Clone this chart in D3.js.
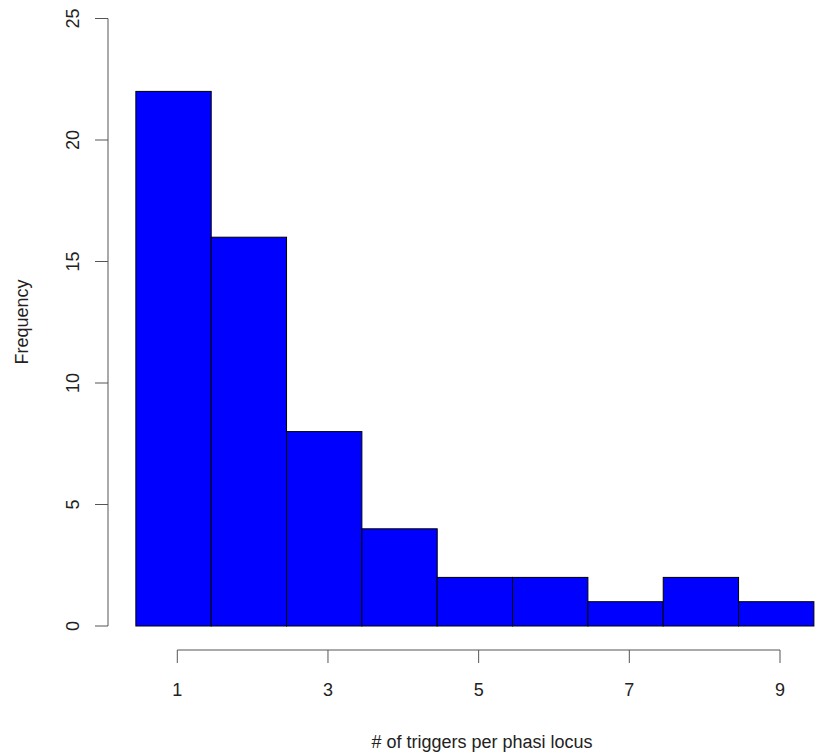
<!DOCTYPE html>
<html>
<head>
<meta charset="utf-8">
<script src="https://cdn.jsdelivr.net/npm/d3@7"></script>
<style>
  body { margin: 0; background: #fff; }
  text { font-family: "Liberation Sans", Arial, sans-serif; fill: #222; }
</style>
</head>
<body>
<svg id="chart" width="817" height="754"></svg>
<script>
// histogram bins: left edge of each bin and its count
const binStarts = [0.45, 1.45, 2.45, 3.45, 4.45, 5.45, 6.45, 7.45, 8.45];
const counts = [22, 16, 8, 4, 2, 2, 1, 2, 1];
const xTicks = [1, 3, 5, 7, 9];
const yTicks = [0, 5, 10, 15, 20, 25];

const svg = d3.select('#chart');

// 1 -> 177.3, 9 -> 780
const x = d3.scaleLinear().domain([1, 9]).range([177.3, 780]);
const y = d3.scaleLinear().domain([0, 25]).range([626, 18.5]);

// bars
svg.selectAll('rect.bar')
    .data(counts)
    .enter().append('rect')
    .attr('class', 'bar')
    .attr('x', (d, i) => x(binStarts[i]))
    .attr('width', (d, i) => x(binStarts[i] + 1) - x(binStarts[i]))
    .attr('y', d => y(d))
    .attr('height', d => y(0) - y(d))
    .attr('fill', '#0000ff')
    .attr('stroke', '#000')
    .attr('stroke-width', 1);

// x axis, R style: line only between first and last tick
const xAxis = svg.append('g').attr('transform', 'translate(0,650)');
xAxis.append('line')
    .attr('x1', x(xTicks[0])).attr('x2', x(xTicks[xTicks.length - 1]))
    .attr('stroke', '#555');
xAxis.selectAll('line.tick')
    .data(xTicks)
    .enter().append('line')
    .attr('class', 'tick')
    .attr('x1', d => x(d)).attr('x2', d => x(d))
    .attr('y1', 0).attr('y2', 13)
    .attr('stroke', '#555');
xAxis.selectAll('text')
    .data(xTicks)
    .enter().append('text')
    .attr('x', d => x(d))
    .attr('y', 46)
    .attr('text-anchor', 'middle')
    .attr('font-size', 18)
    .text(d => d);

// y axis
const yAxis = svg.append('g').attr('transform', 'translate(108,0)');
yAxis.append('line')
    .attr('y1', y(yTicks[0])).attr('y2', y(yTicks[yTicks.length - 1]))
    .attr('stroke', '#555');
yAxis.selectAll('line.tick')
    .data(yTicks)
    .enter().append('line')
    .attr('class', 'tick')
    .attr('y1', d => y(d)).attr('y2', d => y(d))
    .attr('x1', 0).attr('x2', -13)
    .attr('stroke', '#555');
yAxis.selectAll('text')
    .data(yTicks)
    .enter().append('text')
    .attr('transform', d => 'translate(-29,' + y(d) + ') rotate(-90)')
    .attr('text-anchor', 'middle')
    .attr('font-size', 18)
    .text(d => d);

// axis titles
svg.append('text')
    .attr('x', 482).attr('y', 748)
    .attr('text-anchor', 'middle')
    .attr('font-size', 18)
    .text('# of triggers per phasi locus');

svg.append('text')
    .attr('transform', 'translate(28,322) rotate(-90)')
    .attr('text-anchor', 'middle')
    .attr('font-size', 18)
    .text('Frequency');
</script>
</body>
</html>
